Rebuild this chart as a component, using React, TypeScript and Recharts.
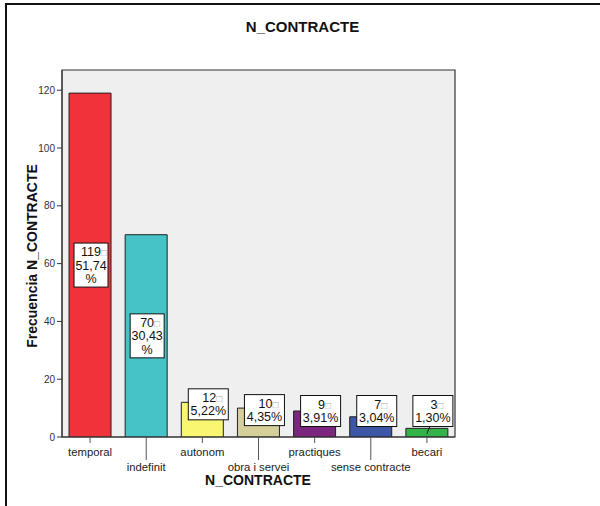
import React from 'react';
import {
  BarChart,
  Bar,
  XAxis,
  YAxis,
  CartesianGrid,
  ReferenceArea,
  LabelList,
  Cell,
} from 'recharts';

const categories = ['temporal', 'indefinit', 'autonom', 'obra i servei', 'practiques', 'sense contracte', 'becari'];
const counts = [119, 70, 12, 10, 9, 7, 3];
const colors = ['#f0333a', '#45c3c6', '#f9f771', '#d4cf9b', '#7b2780', '#3d57a6', '#32b34a'];
const yTicks = [0, 20, 40, 60, 80, 100, 120];

const total = counts.reduce((a, b) => a + b, 0);
const data = categories.map((name, i) => ({
  name,
  count: counts[i],
  pct: ((counts[i] / total) * 100).toFixed(2).replace('.', ',') + '%',
}));

const FONT = "Arial, 'Liberation Sans', sans-serif";

// staggered category ticks, odd ones get a long tick line
const CategoryTick = (props: any) => {
  const { x, y, payload, index } = props;
  const low = index % 2 === 1;
  const len = low ? 23 : 6;
  return (
    <g>
      <line x1={x} y1={y} x2={x} y2={y + len} stroke="#555" strokeWidth={1} />
      <text x={x} y={y + (low ? 34 : 19)} textAnchor="middle" fontSize={11.3} fill="#222" fontFamily={FONT}>
        {payload.value}
      </text>
    </g>
  );
};

// SPSS-like value box: count + percent
const ValueBox = (props: any) => {
  const { x, y, width, height, index } = props;
  const d = data[index];
  const cx = x + width / 2;
  const baseline = y + height;
  const tall = height > 60;
  if (tall) {
    const w = 34;
    const h = 44;
    const bx = cx - w / 2 + 1;
    const by = y + height / 2 - h / 2;
    const mid = bx + w / 2;
    return (
      <g fontFamily={FONT} fontSize={12.5} fill="#111">
        <rect x={bx} y={by} width={w} height={h} fill="#fff" stroke="#111" strokeWidth={1} />
        <text x={mid + 3} y={by + 13} textAnchor="middle">
          {d.count}
          <tspan fill="#aaa" fontSize={10}>{'\u25A1'}</tspan>
        </text>
        <text x={mid} y={by + 26.5} textAnchor="middle">{d.pct.replace('%', '')}</text>
        <text x={mid} y={by + 40} textAnchor="middle">%</text>
      </g>
    );
  }
  const w = 40;
  const h = 31;
  const bcx = cx + 6;
  const bcy = Math.min(y + 2, baseline - 26);
  const bx = bcx - w / 2;
  const by = bcy - h / 2;
  const leader = by + h < y;
  return (
    <g fontFamily={FONT} fontSize={12.5} fill="#111">
      {leader && (
        <line x1={cx} y1={y + height / 2 + 1} x2={bcx - 3} y2={by + h} stroke="#111" strokeWidth={1} />
      )}
      <rect x={bx} y={by} width={w} height={h} fill="#fff" stroke="#111" strokeWidth={1} />
      <text x={bcx + 4} y={by + 13} textAnchor="middle">
        {d.count}
        <tspan fill="#aaa" fontSize={10}>{'\u25A1'}</tspan>
      </text>
      <text x={bcx} y={by + 26.5} textAnchor="middle">{d.pct}</text>
    </g>
  );
};

const App: React.FC = () => {
  return (
    <div style={{ position: 'absolute', left: 0, top: 0, width: 600, height: 506, background: '#fff', overflow: 'hidden' }}>
      {/* outer frame */}
      <div
        style={{
          position: 'absolute',
          left: 5,
          top: 3,
          width: 620,
          height: 540,
          borderLeft: '2px solid #111',
          borderTop: '2px solid #111',
        }}
      />
      <div
        style={{
          position: 'absolute',
          left: 0,
          width: 605,
          top: 18,
          textAlign: 'center',
          fontFamily: FONT,
          fontWeight: 'bold',
          fontSize: 15,
          color: '#111',
        }}
      >
        N_CONTRACTE
      </div>
      <div
        style={{
          position: 'absolute',
          left: 32,
          top: 256,
          transform: 'translate(-50%, -50%) rotate(-90deg)',
          whiteSpace: 'nowrap',
          fontFamily: FONT,
          fontWeight: 'bold',
          fontSize: 14,
          color: '#111',
        }}
      >
        Frecuencia N_CONTRACTE
      </div>
      <div
        style={{
          position: 'absolute',
          left: 158,
          width: 200,
          top: 472,
          textAlign: 'center',
          fontFamily: FONT,
          fontWeight: 'bold',
          fontSize: 14,
          color: '#111',
        }}
      >
        N_CONTRACTE
      </div>
      <div style={{ position: 'absolute', left: 0, top: 0 }}>
        <BarChart
          width={600}
          height={506}
          data={data}
          margin={{ top: 70, right: 145, left: 22, bottom: 19 }}
          barCategoryGap="12.5%"
        >
          <CartesianGrid horizontal={false} vertical={false} fill="#efefef" />
          <XAxis
            dataKey="name"
            interval={0}
            height={50}
            tickSize={0}
            tickMargin={0}
            tickLine={false}
            axisLine={{ stroke: '#333' }}
            tick={<CategoryTick />}
          />
          <YAxis
            width={40}
            domain={[0, 127]}
            ticks={yTicks}
            allowDataOverflow
            tickSize={5}
            tickLine={{ stroke: '#333' }}
            axisLine={{ stroke: '#333' }}
            tick={{ fontSize: 10, fill: '#333', fontFamily: FONT }}
          />
          <ReferenceArea y1={0} y2={127} fill="none" fillOpacity={0} stroke="#333" strokeWidth={1.2} />
          <Bar dataKey="count" stroke="#222" strokeWidth={1} isAnimationActive={false}>
            {data.map((d, i) => (
              <Cell key={d.name} fill={colors[i]} />
            ))}
            <LabelList dataKey="count" content={<ValueBox />} />
          </Bar>
        </BarChart>
      </div>
    </div>
  );
};

export default App;
